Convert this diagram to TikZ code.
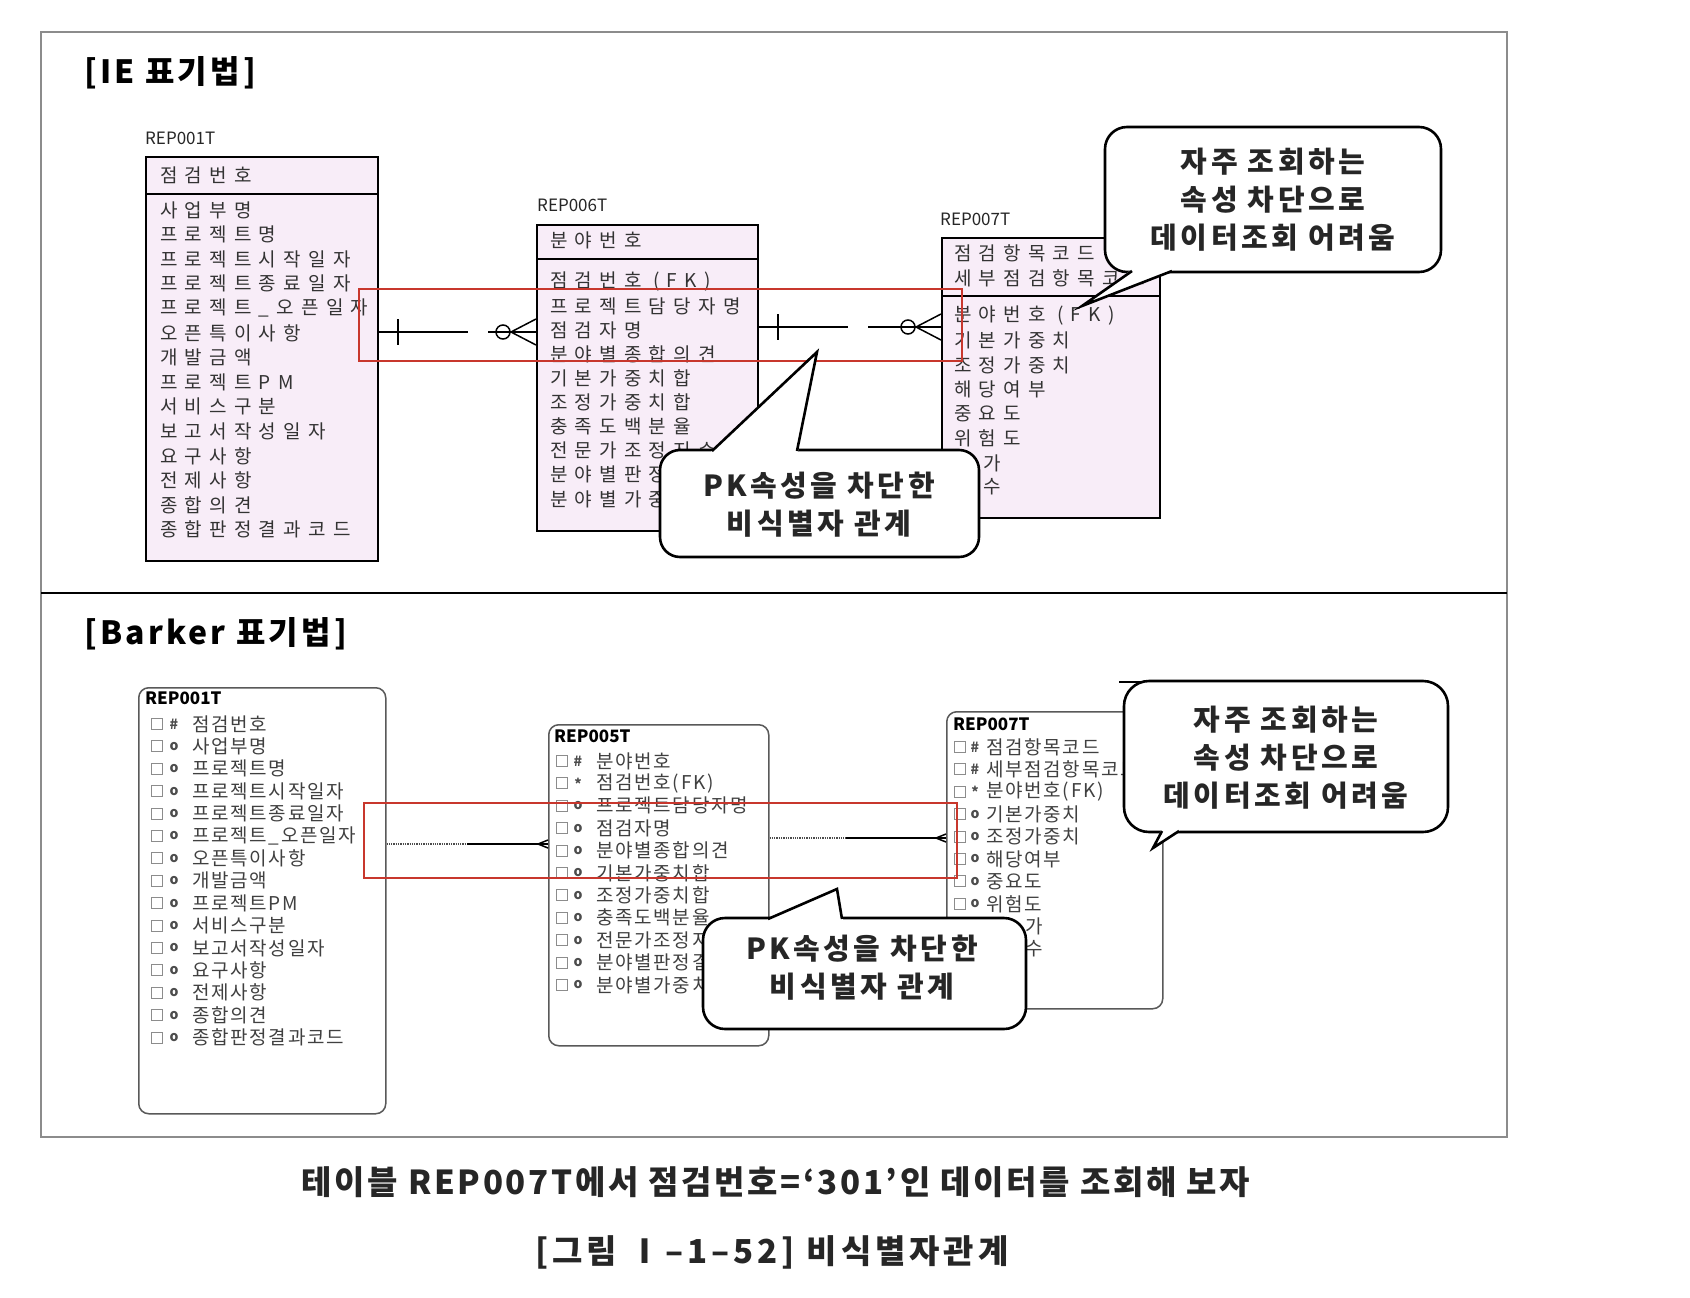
\documentclass[tikz,border=0pt]{standalone}
\usepackage{fontspec}
\setmainfont{Noto Sans CJK KR}
\newfontfamily\wide[LetterSpace=38]{Noto Sans CJK KR}
\newfontfamily\loose[LetterSpace=12]{Noto Sans CJK KR}
\newfontfamily\titlespread[LetterSpace=10]{Noto Sans CJK KR}
\newfontfamily\capspread[LetterSpace=8]{Noto Sans CJK KR}
\newfontfamily\slight[LetterSpace=9]{Noto Sans CJK KR}
\definecolor{pinkfill}{RGB}{248,237,248}
\definecolor{hilite}{RGB}{200,55,45}

\begin{document}
\begin{tikzpicture}[x = 1pt, y = -1pt,
    iebox/.style = {draw, line width = 1.8pt, fill = pinkfill, anchor = north west, inner sep = 0pt},
    bkbox/.style = {draw = black!65, line width = 1.5pt, rounded corners = 10pt, fill = white, anchor = north west, inner sep = 0pt},
    iecol/.style = {anchor = west, inner sep = 0pt, text = black!80, font = \wide\fontsize{19}{19}\selectfont},
    iename/.style = {anchor = west, inner sep = 0pt, text = black!85, font = \fontsize{17}{17}\selectfont},
    bkcol/.style = {anchor = west, inner sep = 0pt, text = black!75, font = \slight\fontsize{19}{19}\selectfont},
    bkname/.style = {anchor = west, inner sep = 0pt, font = \bfseries\fontsize{17}{17}\selectfont},
    bksym/.style = {inner sep = 0pt, text = black!70, font = \bfseries\fontsize{14}{14}\selectfont},
    chk/.style = {draw = black!45, line width = 0.9pt, minimum size = 11pt, inner sep = 0pt},
    rel/.style = {line width = 1.5pt},
    dotrel/.style = {line width = 1.3pt, densely dotted, black!70},
    hilite/.style = {draw = hilite, line width = 2.6pt},
    bubble/.style = {draw, line width = 2.6pt, fill = white, rounded corners = 22pt},
    tail/.style = {line width = 2.6pt},
    bubbletext/.style = {align = center, inner sep = 0pt, text = black!85, font = \loose\bfseries\fontsize{29}{38}\selectfont},
    sectitle/.style = {anchor = west, inner sep = 0pt, font = \titlespread\bfseries\fontsize{32}{32}\selectfont},
    captext/.style = {inner sep = 0pt, text = black!85, font = \capspread\bfseries\fontsize{33}{33}\selectfont}
]
        \fill[white] (0,0) rectangle (1690,1298);
        \useasboundingbox (0,0) rectangle (1690,1298);

        \draw[black!45, line width = 1.5pt] (41,32) rectangle (1507,1137);
        \draw[line width = 2pt] (41,593) -- (1507,593);

        \node[sectitle] (ietitle) at (84,73) {[IE 표기법]};
        \node[sectitle] (bktitle) at (84,634) {[Barker 표기법]};

        % IE
        \node[iename] (e1name) at (145,138) {REP001T};
        \node[iebox, minimum width = 232pt, minimum height = 404pt] (e1) at (145,156) {};
        \draw[line width = 1.8pt] (e1.west |- 0,194) -- (e1.east |- 0,194);
        \node[iecol] (e1key) at (160,175) {점검번호};
        \foreach \t [count = \i from 0] in {사업부명, 프로젝트명, 프로젝트시작일자, 프로젝트종료일자, 프로젝트\_오픈일자, 오픈특이사항, 개발금액, 프로젝트PM, 서비스구분, 보고서작성일자, 요구사항, 전제사항, 종합의견, 종합판정결과코드}
            \node[iecol] (e1c\i) at (160, {210 + 24.6*\i}) {\t};

        \node[iename] (e2name) at (537,205) {REP006T};
        \node[iebox, minimum width = 221pt, minimum height = 306pt] (e2) at (536,224) {};
        \draw[line width = 1.8pt] (e2.west |- 0,259) -- (e2.east |- 0,259);
        \node[iecol] (e2key) at (550,240) {분야번호};
        \foreach \t [count = \i from 0] in {점검번호 (FK), 프로젝트담당자명, 점검자명, 분야별종합의견, 기본가중치합, 조정가중치합, 충족도백분율, 전문가조정지수, 분야별판정결과, 분야별가중치}
            \node[iecol] (e2c\i) at (550, {282 + 24.1*\i}) {\t};

        \node[iename] (e3name) at (940,219) {REP007T};
        \node[iebox, minimum width = 218pt, minimum height = 280pt] (e3) at (941,237) {};
        \draw[line width = 1.8pt] (e3.west |- 0,296) -- (e3.east |- 0,296);
        \node[iecol] (e3key1) at (954,253) {점검항목코드};
        \node[iecol] (e3key2) at (954,278) {세부점검항목코드};
        \foreach \t [count = \i from 0] in {분야번호 (FK), 기본가중치, 조정가중치, 해당여부, 중요도, 위험도}
            \node[iecol] (e3c\i) at (954, {316 + 24.5*\i}) {\t};
        \node[iecol] (e3c6) at (983,463) {가};
        \node[iecol] (e3c7) at (983,487) {수};

        \draw[hilite] (359,289) rectangle (962,361);

        \draw[rel] (e1.east |- 0,332) -- ++(89,0);
        \draw[rel] (e1.east |- 0,332) ++(19,-13) -- ++(0,26);
        \draw[rel] (e2.west |- 0,332) -- ++(-48,0);
        \draw[rel] (e2.west |- 0,332) ++(-33,0) circle[radius = 7pt];
        \draw[rel] (e2.west |- 0,319) -- ++(-25,13) -- ++(25,13);

        \draw[rel] (e2.east |- 0,327) -- ++(89,0);
        \draw[rel] (e2.east |- 0,327) ++(19,-13) -- ++(0,26);
        \draw[rel] (e3.west |- 0,327) -- ++(-73,0);
        \draw[rel] (e3.west |- 0,327) ++(-33,0) circle[radius = 7pt];
        \draw[rel] (e3.west |- 0,314) -- ++(-25,13) -- ++(25,13);

        \draw[bubble] (1105,127) rectangle (1441,272);
        \fill[white] (1131,270) -- (1082,306) -- (1173,270) -- cycle;
        \draw[tail] (1132,271) -- (1082,306) -- (1172,271);
        \node[bubbletext] (note1) at (1273,200) {자주 조회하는\\속성 차단으로\\데이터조회 어려움};

        \draw[bubble, rounded corners = 20pt] (660,450) rectangle (979,557);
        \fill[white] (711,452) -- (817,352) -- (798,452) -- cycle;
        \draw[tail] (712,451) -- (817,352) -- (797,451);
        \node[bubbletext] (note2) at (819,505) {PK속성을 차단한\\비식별자 관계};

        % Barker
        \node[bkbox, minimum width = 247pt, minimum height = 426pt] (b1) at (138,687) {};
        \node[bkname] (b1name) at (145,698) {REP001T};
        \foreach \s/\t [count = \i from 0] in {\#/점검번호, o/사업부명, o/프로젝트명, o/프로젝트시작일자, o/프로젝트종료일자, o/프로젝트\_오픈일자, o/오픈특이사항, o/개발금액, o/프로젝트PM, o/서비스구분, o/보고서작성일자, o/요구사항, o/전제사항, o/종합의견, o/종합판정결과코드} {
            \node[chk] (b1k\i) at (157, {724 + 22.4*\i}) {};
            \node[bksym] (b1s\i) at (174, {724 + 22.4*\i}) {\s};
            \node[bkcol] (b1c\i) at (192, {724 + 22.4*\i}) {\t};
        }

        \node[bkbox, minimum width = 220pt, minimum height = 321pt] (b2) at (548,724) {};
        \node[bkname] (b2name) at (554,736) {REP005T};
        \foreach \s/\t [count = \i from 0] in {\#/분야번호, */점검번호(FK), o/프로젝트담당자명, o/점검자명, o/분야별종합의견, o/기본가중치합, o/조정가중치합, o/충족도백분율, o/전문가조정지수, o/분야별판정결과, o/분야별가중치} {
            \node[chk] (b2k\i) at (562, {761 + 22.4*\i}) {};
            \node[bksym] (b2s\i) at (578, {761 + 22.4*\i}) {\s};
            \node[bkcol] (b2c\i) at (596, {761 + 22.4*\i}) {\t};
        }

        \node[bkbox, minimum width = 216pt, minimum height = 297pt] (b3) at (946,711) {};
        \node[bkname] (b3name) at (953,724) {REP007T};
        \foreach \s/\t [count = \i from 0] in {\#/점검항목코드, \#/세부점검항목코드, */분야번호(FK), o/기본가중치, o/조정가중치, o/해당여부, o/중요도, o/위험도} {
            \node[chk] (b3k\i) at (960, {747 + 22.4*\i}) {};
            \node[bksym] (b3s\i) at (975, {747 + 22.4*\i}) {\s};
            \node[bkcol] (b3c\i) at (986, {747 + 22.4*\i}) {\t};
        }
        \node[bkcol] (b3c8) at (1025,926) {가};
        \node[bkcol] (b3c9) at (1025,949) {수};

        \draw[hilite] (364,803) rectangle (957,878);

        \draw[dotrel] (b1.east |- 0,844) -- ++(82,0);
        \draw[rel] (b2.west |- 0,844) -- ++(-81,0);
        \draw[rel] (b2.west |- 0,840) -- ++(-10,4) -- ++(10,4);

        \draw[dotrel] (b2.east |- 0,838) -- ++(78,0);
        \draw[rel] (b3.west |- 0,838) -- ++(-100,0);
        \draw[rel] (b3.west |- 0,834) -- ++(-10,4) -- ++(10,4);

        \draw[bubble, rounded corners = 25pt] (1124,681) rectangle (1448,832);
        \fill[white] (1161,830) -- (1153,848) -- (1180,830) -- cycle;
        \draw[tail] (1162,831) -- (1153,848) -- (1179,831);
        \draw[line width = 2pt] (1119,682) -- (1142,682);
        \node[bubbletext] (note3) at (1286,758) {자주 조회하는\\속성 차단으로\\데이터조회 어려움};

        \draw[bubble] (703,918) rectangle (1026,1029);
        \fill[white] (767,920) -- (837,889) -- (843,920) -- cycle;
        \draw[tail] (768,919) -- (837,889) -- (842,919);
        \node[bubbletext] (note4) at (862,968) {PK속성을 차단한\\비식별자 관계};

        \node[captext] (cap1) at (776,1182) {테이블 REP007T에서 점검번호=‘301’인 데이터를 조회해 보자};
        \node[captext, font = \loose\bfseries\fontsize{33}{33}\selectfont] (cap2) at (772,1252) {[그림 Ⅰ–1–52] 비식별자관계};
\end{tikzpicture}
\end{document}
